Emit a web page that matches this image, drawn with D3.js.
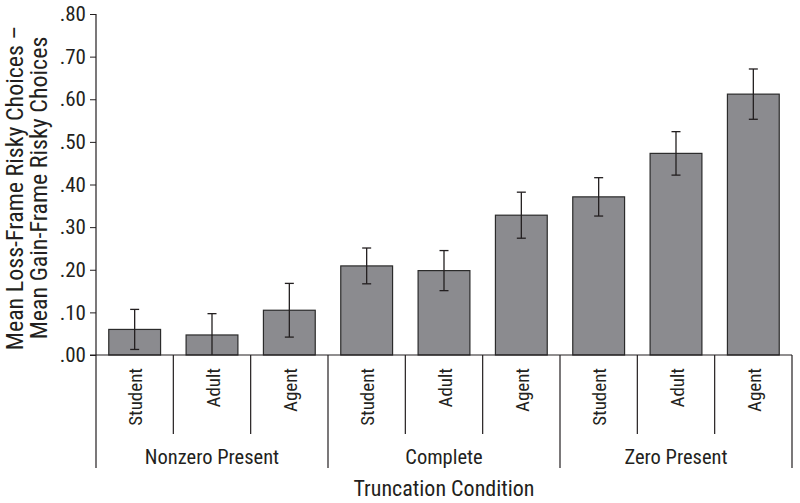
<!DOCTYPE html>
<html>
<head>
<meta charset="utf-8">
<script src="https://cdn.jsdelivr.net/npm/d3@7"></script>
<style>
  body { margin: 0; background: #fff; }
  svg { display: block; }
</style>
</head>
<body>
<div id="chart"></div>
<script>
// data
const groups = ["Nonzero Present", "Complete", "Zero Present"];
const roles = ["Student", "Adult", "Agent"];
const means = [0.060, 0.047, 0.105, 0.209, 0.198, 0.328, 0.371, 0.473, 0.612];
const errors = [0.047, 0.050, 0.063, 0.042, 0.047, 0.054, 0.045, 0.051, 0.059];
const yTicks = [0, 0.1, 0.2, 0.3, 0.4, 0.5, 0.6, 0.7, 0.8];
const yTitle = ["Mean Loss-Frame Risky Choices \u2013", "Mean Gain-Frame Risky Choices"];
const xTitle = "Truncation Condition";

function drawChart() {
  const width = 800;
  const height = 503;
  const margin = { top: 14, right: 8, bottom: 148, left: 96 };
  const font = "'Liberation Sans Narrow', 'Roboto Condensed', 'DejaVu Sans Condensed', sans-serif";
  const ink = "#231f20";

  const cells = means.map((m, i) => ({
    i,
    group: groups[Math.floor(i / roles.length)],
    role: roles[i % roles.length],
    mean: m,
    err: errors[i]
  }));

  const x = d3.scaleBand()
      .domain(cells.map(d => d.i))
      .range([margin.left, width - margin.right])
      .paddingInner(0.33)
      .paddingOuter(0.165);

  const y = d3.scaleLinear()
      .domain([0, 0.8])
      .range([height - margin.bottom, margin.top]);

  const svg = d3.create("svg")
      .attr("viewBox", [0, 0, width, height])
      .attr("width", width)
      .attr("height", height)
      .style("font-family", font);

  // cell edges (left edge of each band step)
  const edge = i => x(i) + x.bandwidth() / 2 - x.step() / 2;
  const y0 = y(0);
  const innerBottom = y0 + 79;
  const groupBottom = y0 + 113;

  // y axis
  const fmt = d3.format(".2f");
  const yAxis = svg.append("g")
      .attr("transform", `translate(${margin.left},0)`)
      .call(d3.axisLeft(y)
        .tickValues(yTicks)
        .tickSize(6)
        .tickPadding(4)
        .tickFormat(d => fmt(d).replace(/^0/, "")));
  yAxis.select(".domain").remove();
  yAxis.selectAll(".tick line").attr("stroke", ink).attr("stroke-width", 1);
  yAxis.selectAll(".tick text")
      .attr("fill", ink)
      .style("font-family", font)
      .style("font-size", "21px");

  // bars
  svg.append("g")
    .selectAll("rect")
    .data(cells)
    .join("rect")
      .attr("x", d => x(d.i))
      .attr("y", d => y(d.mean))
      .attr("width", x.bandwidth())
      .attr("height", d => y0 - y(d.mean))
      .attr("fill", "#8b8b8f")
      .attr("stroke", "#2b2b2b")
      .attr("stroke-width", 1.2);

  // error bars
  const eb = svg.append("g")
      .attr("stroke", ink)
      .attr("stroke-width", 1.3)
    .selectAll("g")
    .data(cells)
    .join("g")
      .attr("transform", d => `translate(${x(d.i) + x.bandwidth() / 2},0)`);
  eb.append("line")
      .attr("y1", d => y(d.mean + d.err))
      .attr("y2", d => y(Math.max(0, d.mean - d.err)));
  eb.append("line")
      .attr("x1", -4.5).attr("x2", 4.5)
      .attr("y1", d => y(d.mean + d.err))
      .attr("y2", d => y(d.mean + d.err));
  eb.filter(d => d.mean - d.err > 0).append("line")
      .attr("x1", -4.5).attr("x2", 4.5)
      .attr("y1", d => y(d.mean - d.err))
      .attr("y2", d => y(d.mean - d.err));

  // axis lines
  const lines = svg.append("g").attr("stroke", ink).attr("stroke-width", 1.2);
  lines.append("line")
      .attr("x1", margin.left).attr("x2", margin.left)
      .attr("y1", margin.top).attr("y2", groupBottom);
  lines.append("line")
      .attr("x1", margin.left - 6).attr("x2", width - margin.right)
      .attr("y1", y0).attr("y2", y0);

  // separators below the axis
  const seps = d3.range(1, cells.length + 1);
  lines.selectAll(".sep")
    .data(seps)
    .join("line")
      .attr("class", "sep")
      .attr("x1", i => i === cells.length ? width - margin.right : edge(i))
      .attr("x2", i => i === cells.length ? width - margin.right : edge(i))
      .attr("y1", y0)
      .attr("y2", i => i % roles.length === 0 ? groupBottom : innerBottom);

  // role labels, rotated
  svg.append("g")
    .selectAll("text")
    .data(cells)
    .join("text")
      .attr("transform", d => `translate(${x(d.i) + x.bandwidth() / 2 + 7.5},${y0 + 13}) rotate(-90)`)
      .attr("text-anchor", "end")
      .attr("fill", ink)
      .style("font-size", "19px")
      .text(d => d.role);

  // group labels
  svg.append("g")
    .selectAll("text")
    .data(groups)
    .join("text")
      .attr("x", (g, k) => (edge(k * roles.length) + (k === groups.length - 1 ? width - margin.right : edge((k + 1) * roles.length))) / 2)
      .attr("y", y0 + 109)
      .attr("text-anchor", "middle")
      .attr("fill", ink)
      .style("font-size", "20.5px")
      .text(g => g);

  // x title
  svg.append("text")
      .attr("x", (margin.left + width - margin.right) / 2)
      .attr("y", 496)
      .attr("text-anchor", "middle")
      .attr("fill", ink)
      .style("font-size", "22px")
      .text(xTitle);

  // y title, two lines
  svg.append("text")
      .attr("transform", "translate(0,188) rotate(-90)")
      .attr("text-anchor", "middle")
      .attr("fill", ink)
      .style("font-size", "24px")
    .selectAll("tspan")
    .data(yTitle)
    .join("tspan")
      .attr("x", 0)
      .attr("y", (d, k) => 23 + k * 24)
      .text(d => d);

  d3.select("#chart").node().appendChild(svg.node());
}

drawChart();
</script>
</body>
</html>
